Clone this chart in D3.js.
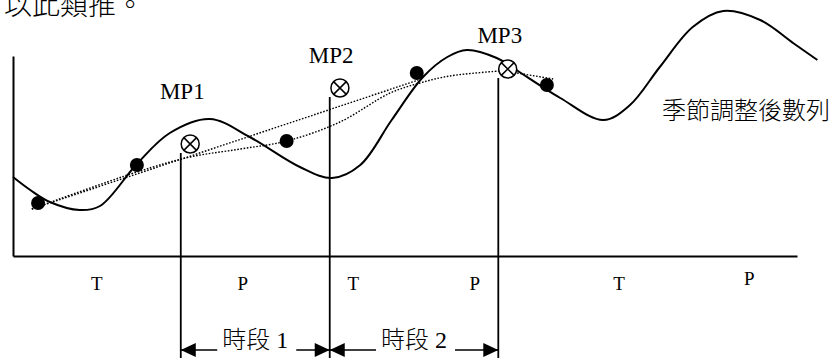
<!DOCTYPE html>
<html lang="zh-Hant">
<head>
<meta charset="utf-8">
<title>季節調整後數列</title>
<style>
body{ margin:0; background:#fff; }
svg{ display:block; }
text{ font-family:"Liberation Serif","Noto Sans CJK TC",serif; fill:#000; }
text.cjk{ font-weight:300; }
</style>
</head>
<body>
<div id="chart"></div>
<script src="https://d3js.org/d3.v7.min.js"></script>
<script>
  // seasonally adjusted series (time 0-100, level 0-100)
  const curveT = [0, 2.2, 4.7, 8.5, 11.1, 15.8, 20.0, 25.1, 30.2, 36.6, 40.7, 44.3, 48.3, 52.3, 55.4, 57.9, 61.7, 63.8, 69.8, 75.3, 78.7, 82.5, 86.7, 90.6, 95.3, 99.5, 102.6];
  const curveV = [39.5, 33, 27, 23, 25, 46, 61.5, 68.5, 59.5, 44.5, 39, 45.5, 68, 89.5, 99.5, 103, 99, 94, 79, 68, 75.5, 94.5, 114.5, 122.5, 118, 106.5, 98];

  // sample points (filled dots)
  const dotT = [3.2, 15.8, 34.9, 51.5, 68.1];
  const dotV = [26.5, 45.5, 57.5, 91.5, 85.5];

  // mid points
  const mpNames = ["MP1", "MP2", "MP3"];
  const mpT = [22.6, 41.7, 63.1];
  const mpV = [56, 84, 93.5];
  const mpLabelV = [78.5, 96.5, 106.5];

  // period boundaries
  const cutT = [21.4, 40.4, 61.9];

  // dotted trend lines
  const trendAT = [2.4, 51.7];
  const trendAV = [23.5, 88];
  const trendBT = [2.4, 15.8, 22.6, 29.0, 34.9, 41.7, 48.1, 51.9, 55.7, 62.1];
  const trendBV = [23.5, 42, 49.5, 53.5, 57.5, 67, 81.5, 86.5, 90, 92.5];
  const trendCT = [64.3, 68.9];
  const trendCV = [91.5, 88.5];

  // phase labels under the axis
  const phaseLabels = ["T", "P", "T", "P", "T", "P"];
  const phaseT = [10.7, 29.3, 43.4, 58.9, 77.3, 93.9];
  const phaseV = [-17, -17, -17, -17, -17, -14.5];

  const periodLabels = ["時段 1", "時段 2"];

  const width = 838;
  const height = 361;

  const svg = d3.select("#chart")
    .append("svg")
    .attr("width", width)
    .attr("height", height);

  const x = d3.scaleLinear().domain([0, 100]).range([13, 797]);
  const y = d3.scaleLinear().domain([0, 100]).range([256, 56]);

  // text above the chart (cut by the top edge, as in the source)
  svg.append("text")
    .attr("class", "cjk")
    .attr("x", 4)
    .attr("y", 15)
    .style("font-size", "28px")
    .text("以此類推。");

  // axes (lines only)
  svg.append("g")
    .attr("transform", `translate(${x(0)},0)`)
    .call(d3.axisLeft(y).ticks(0).tickSizeOuter(0))
    .select(".domain").attr("stroke-width", 2);

  svg.append("g")
    .attr("transform", `translate(0,${y(0)})`)
    .call(d3.axisBottom(x).ticks(0).tickSizeOuter(0))
    .select(".domain").attr("stroke-width", 2);

  const line = d3.line()
    .x(d => x(d[0]))
    .y(d => y(d[1]));

  // dotted lines
  const dotted = [
    d3.zip(trendAT, trendAV),
    d3.zip(trendBT, trendBV),
    d3.zip(trendCT, trendCV)
  ];
  svg.selectAll("path.trend")
    .data(dotted)
    .enter()
    .append("path")
    .attr("class", "trend")
    .attr("d", (d, i) => i === 1 ? line.curve(d3.curveCatmullRom)(d) : line.curve(d3.curveLinear)(d))
    .attr("fill", "none")
    .attr("stroke", "#000")
    .attr("stroke-width", 1.4)
    .attr("stroke-dasharray", "1.6,1.6");

  // seasonally adjusted series
  svg.append("path")
    .attr("d", line.curve(d3.curveCatmullRom)(d3.zip(curveT, curveV)))
    .attr("fill", "none")
    .attr("stroke", "#000")
    .attr("stroke-width", 2);

  // period boundary lines
  svg.selectAll("line.cut")
    .data(cutT)
    .enter()
    .append("line")
    .attr("class", "cut")
    .attr("x1", d => x(d))
    .attr("x2", d => x(d))
    .attr("y1", (d, i) => y(mpV[i]) + 9)
    .attr("y2", 358)
    .attr("stroke", "#000")
    .attr("stroke-width", 1.8);

  // filled dots
  svg.selectAll("circle.dot")
    .data(d3.zip(dotT, dotV))
    .enter()
    .append("circle")
    .attr("class", "dot")
    .attr("cx", d => x(d[0]))
    .attr("cy", d => y(d[1]))
    .attr("r", 7)
    .attr("fill", "#000");

  // crossed circles for mid points
  const mp = svg.selectAll("g.mp")
    .data(d3.zip(mpT, mpV))
    .enter()
    .append("g")
    .attr("class", "mp")
    .attr("transform", d => `translate(${x(d[0])},${y(d[1])})`);
  mp.append("circle")
    .attr("r", 9)
    .attr("fill", "#fff")
    .attr("stroke", "#000")
    .attr("stroke-width", 1.5);
  const k = 9 * Math.SQRT1_2;
  mp.append("path")
    .attr("d", `M${-k},${-k}L${k},${k}M${k},${-k}L${-k},${k}`)
    .attr("stroke", "#000")
    .attr("stroke-width", 1.5);

  // mid point labels
  svg.selectAll("text.mp")
    .data(mpNames)
    .enter()
    .append("text")
    .attr("class", "mp")
    .attr("x", (d, i) => x(cutT[i]) + 1.5)
    .attr("y", (d, i) => y(mpLabelV[i]))
    .attr("text-anchor", "middle")
    .style("font-size", "23px")
    .text(d => d);

  // series label
  svg.append("text")
    .attr("class", "cjk")
    .attr("x", 662)
    .attr("y", 119)
    .style("font-size", "24px")
    .text("季節調整後數列");

  // T / P labels
  svg.selectAll("text.phase")
    .data(phaseLabels)
    .enter()
    .append("text")
    .attr("class", "phase")
    .attr("x", (d, i) => x(phaseT[i]))
    .attr("y", (d, i) => y(phaseV[i]))
    .attr("text-anchor", "middle")
    .style("font-size", "19px")
    .text(d => d);

  // period arrows
  const arrowY = 350;
  periodLabels.forEach((label, i) => {
    const x0 = x(cutT[i]);
    const x1 = x(cutT[i + 1]);
    const t = svg.append("text")
      .attr("class", "cjk")
      .attr("x", (x0 + x1) / 2)
      .attr("y", arrowY - 2)
      .attr("text-anchor", "middle")
      .style("font-size", "24px")
      .text(label);
    const w = t.node().getComputedTextLength();
    const tl = (x0 + x1) / 2 - w / 2;
    const tr = (x0 + x1) / 2 + w / 2;
    svg.append("path")
      .attr("d", `M${x0},${arrowY}L${tl - 5},${arrowY}M${tr + 8},${arrowY}L${x1},${arrowY}`)
      .attr("stroke", "#000")
      .attr("stroke-width", 1.5);
    svg.append("path")
      .attr("d", `M${x0},${arrowY}l15,-7l0,14z M${x1},${arrowY}l-15,-7l0,14z`)
      .attr("fill", "#000");
  });
</script>
</body>
</html>
